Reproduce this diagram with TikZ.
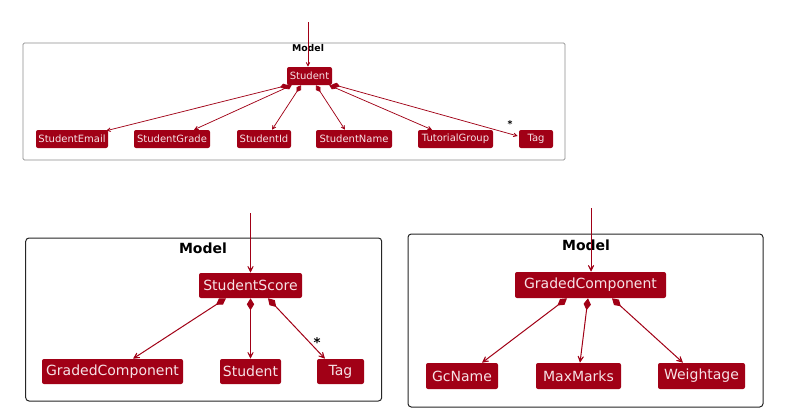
\documentclass[tikz,border=0pt]{standalone}
\usepackage{fontspec}
\setmainfont{DejaVu Sans}
\usetikzlibrary{arrows.meta,calc}
\definecolor{umlred}{HTML}{A10016}
\definecolor{umltext}{HTML}{F6E2E6}
\begin{document}
\begin{tikzpicture}[x=0.75pt,y=-0.75pt,
  bw/.style={minimum width=#1*0.75pt},
  bh/.style={minimum height=#1*0.75pt},
  cls/.style={rectangle,rounded corners=1.5pt,fill=umlred,text=umltext,inner sep=0pt},
  smallcls/.style={cls,bh=18,font=\fontsize{7.5}{9}\selectfont},
  bigcls/.style={cls,font=\fontsize{10.5}{12}\selectfont},
  frameS/.style={draw=gray!90,line width=0.5pt,rounded corners=1pt},
  frameB/.style={draw=black!85,line width=0.75pt,rounded corners=2.5pt},
  titleS/.style={font=\bfseries\fontsize{7}{8}\selectfont,inner sep=0pt},
  titleB/.style={font=\bfseries\fontsize{10.5}{12}\selectfont,inner sep=0pt},
  compS/.style={draw=umlred,line width=0.55pt,{Diamond[length=6pt,width=4pt]}-{Stealth[length=5.5pt,width=5.5pt,inset=3.8pt]}},
  compB/.style={draw=umlred,line width=0.75pt,{Diamond[length=9pt,width=5.5pt]}-{Stealth[length=8pt,width=8pt,inset=5.5pt]}},
  inS/.style={draw=umlred,line width=0.55pt,-{Stealth[length=5.5pt,width=5.5pt,inset=3.8pt]}},
  inB/.style={draw=umlred,line width=0.75pt,-{Stealth[length=8pt,width=8pt,inset=5.5pt]}},
  mult/.style={inner sep=0pt}
]
\useasboundingbox (0,0) rectangle (803,414);
\fill[white] (0,0) rectangle (803,414);

% ---------------- top panel ----------------
\draw[frameS] (23,43) rectangle (565,160);
\node[titleS] (t1) at (308,48.5) {Model};
\node[smallcls,bw=45] (stu) at (309.5,76) {Student};
\node[smallcls,bw=72] (email) at (72,139) {StudentEmail};
\node[smallcls,bw=76] (grade) at (172,139) {StudentGrade};
\node[smallcls,bw=54] (sid) at (264,139) {StudentId};
\node[smallcls,bw=76] (sname) at (354,139) {StudentName};
\node[smallcls,bw=75] (tutor) at (455.5,139) {TutorialGroup};
\node[smallcls,bw=34] (tag1) at (536,139) {Tag};
\coordinate (in1) at (308,22);
\draw[inS] (in1) -- ($(stu.north)+(-1.5,0)$);
\draw[compS] ($(stu.south west)+(1,0)$) -- ($(email.north east)+(-2,1)$);
\draw[compS] ($(stu.south west)+(5,0)$) -- ($(grade.north)+(22,0)$);
\draw[compS] ($(stu.south)+(-8.5,0)$) -- ($(sid.north)+(8,0)$);
\draw[compS] ($(stu.south)+(6.5,0)$) -- ($(sname.north)+(-9,0)$);
\draw[compS] ($(stu.south east)+(-3,0)$) -- ($(tutor.north)+(-23.5,0)$);
\draw[compS] ($(stu.south east)+(0,-1)$) -- ($(tag1.west)+(-1,-3)$);
\node[mult,font=\bfseries\fontsize{7}{8}\selectfont] (m1) at (510,124) {*};

% ---------------- bottom left panel ----------------
\draw[frameB] (25.7,238) rectangle (381.7,401);
\node[titleB] (t2) at (203,248) {Model};
\node[bigcls,bw=103,bh=25] (score) at (250.5,285.5) {StudentScore};
\node[bigcls,bw=141,bh=25] (gc1) at (112.5,371.5) {GradedComponent};
\node[bigcls,bw=61,bh=25] (stud2) at (250.5,371.5) {Student};
\node[bigcls,bw=47,bh=25] (tag2) at (340.5,371.5) {Tag};
\coordinate (in2) at (250.5,213);
\draw[inB] (in2) -- (score.north);
\draw[compB] ($(score.south)+(-24.5,0)$) -- ($(gc1.north)+(20.5,0)$);
\draw[compB] (score.south) -- (stud2.north);
\draw[compB] ($(score.south)+(17.5,0)$) -- ($(tag2.north)+(-15.5,0)$);
\node[mult,font=\bfseries\fontsize{10}{11}\selectfont] (m2) at (317,343) {*};

% ---------------- bottom right panel ----------------
\draw[frameB] (408,234) rectangle (763,407);
\node[titleB] (t3) at (586,245) {Model};
\node[bigcls,bw=151,bh=26] (gc2) at (590.5,285) {GradedComponent};
\node[bigcls,bw=72,bh=26] (gcname) at (462,376) {GcName};
\node[bigcls,bw=85,bh=26] (maxm) at (578.5,376) {MaxMarks};
\node[bigcls,bw=87,bh=26] (weight) at (701.5,376) {Weightage};
\coordinate (in3) at (591,208);
\draw[inB] (in3) -- ($(gc2.north)+(0.5,0)$);
\draw[compB] ($(gc2.south)+(-23.5,0)$) -- ($(gcname.north)+(20,0)$);
\draw[compB] ($(gc2.south)+(-2.5,0)$) -- ($(maxm.north)+(1.5,0)$);
\draw[compB] ($(gc2.south)+(21.5,0)$) -- ($(weight.north)+(-18.5,0)$);
\end{tikzpicture}
\end{document}
